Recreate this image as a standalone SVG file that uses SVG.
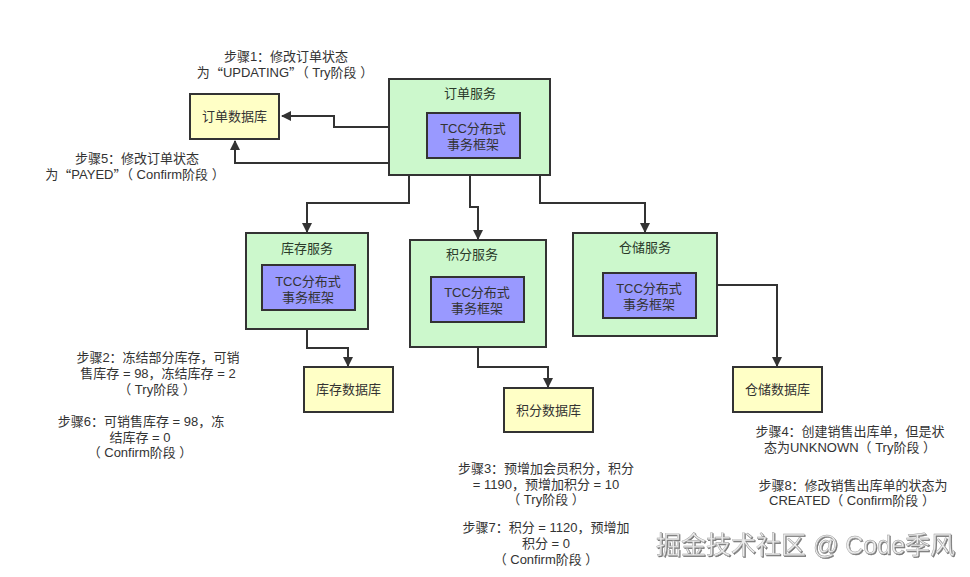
<svg xmlns="http://www.w3.org/2000/svg" width="970" height="577" viewBox="0 0 970 577">
<style>
text{font-family:"Liberation Sans","Noto Sans CJK SC",sans-serif;font-size:13px;fill:#333;text-anchor:middle;dominant-baseline:central}
.svc{fill:#ccf8cc;stroke:#333;stroke-width:2}
.tcc{fill:#9999ff;stroke:#333;stroke-width:2}
.db{fill:#ffffc6;stroke:#333;stroke-width:2}
.ttl{fill:#2a3a2a}
.ann{fill:#333}
.q{font-family:"Noto Sans CJK SC",sans-serif}
.conn{fill:none;stroke:#333;stroke-width:2}
.wm{font-size:25px;text-anchor:start;dominant-baseline:alphabetic;fill:#ececec;stroke:#999;stroke-width:0.4}
</style>
<defs>
<marker id="ah" markerWidth="10" markerHeight="10" refX="9" refY="5" orient="auto" markerUnits="userSpaceOnUse">
<path d="M0,0 L10,5 L0,10 Z" fill="#333"/>
</marker>
<filter id="sh" x="-5%" y="-20%" width="110%" height="150%">
<feDropShadow dx="1" dy="1" stdDeviation="0.6" flood-color="#666" flood-opacity="0.9"/>
</filter>
</defs>
<rect width="970" height="577" fill="#fff"/>

<g id="connectors">
<path class="conn" d="M389,127 H334 V116 H282" marker-end="url(#ah)"/>
<path class="conn" d="M389,163 H235 V141" marker-end="url(#ah)"/>
<path class="conn" d="M409,175 V203 H307 V232" marker-end="url(#ah)"/>
<path class="conn" d="M470,175 V207 H478 V239" marker-end="url(#ah)"/>
<path class="conn" d="M540,175 V203 H645 V232" marker-end="url(#ah)"/>
<path class="conn" d="M717,285 H777 V366" marker-end="url(#ah)"/>
<path class="conn" d="M307,329 V348 H348 V366" marker-end="url(#ah)"/>
<path class="conn" d="M478,347 V367 H548 V387" marker-end="url(#ah)"/>
</g>

<g id="order-db">
<rect class="db" x="190" y="94" width="89" height="45"/>
<text x="234.5" y="116.5">订单数据库</text>
</g>

<g id="order-service">
<rect class="svc" x="389" y="79" width="161" height="96"/>
<text class="ttl" x="470" y="93">订单服务</text>
<rect class="tcc" x="427" y="113" width="93" height="45"/>
<text x="473" y="128">TCC分布式</text>
<text x="473" y="144">事务框架</text>
</g>

<g id="stock-service">
<rect class="svc" x="246" y="233" width="122" height="96"/>
<text class="ttl" x="307" y="248">库存服务</text>
<rect class="tcc" x="262" y="265" width="93" height="45"/>
<text x="308" y="281">TCC分布式</text>
<text x="308" y="297">事务框架</text>
</g>

<g id="points-service">
<rect class="svc" x="410" y="240" width="136" height="107"/>
<text class="ttl" x="472" y="254">积分服务</text>
<rect class="tcc" x="431" y="277" width="93" height="45"/>
<text x="477" y="292">TCC分布式</text>
<text x="477" y="308">事务框架</text>
</g>

<g id="warehouse-service">
<rect class="svc" x="573" y="233" width="144" height="103"/>
<text class="ttl" x="645" y="247">仓储服务</text>
<rect class="tcc" x="603" y="273" width="93" height="45"/>
<text x="649" y="288">TCC分布式</text>
<text x="649" y="304">事务框架</text>
</g>

<g id="stock-db">
<rect class="db" x="304" y="367" width="89" height="45"/>
<text x="348.5" y="389.5">库存数据库</text>
</g>

<g id="points-db">
<rect class="db" x="504" y="388" width="89" height="44"/>
<text x="548.5" y="410">积分数据库</text>
</g>

<g id="warehouse-db">
<rect class="db" x="733" y="367" width="89" height="45"/>
<text x="777.5" y="389.5">仓储数据库</text>
</g>

<g id="annotations">
<text class="ann" x="286" y="56">步骤1：修改订单状态</text>
<text class="ann" x="285" y="72">为<tspan class="q">“</tspan>UPDATING<tspan class="q">”</tspan>（ Try阶段 ）</text>
<text class="ann" x="137" y="158">步骤5：修改订单状态</text>
<text class="ann" x="135" y="174">为<tspan class="q">“</tspan>PAYED<tspan class="q">”</tspan>（ Confirm阶段 ）</text>
<text class="ann" x="158" y="357">步骤2：冻结部分库存，可销</text>
<text class="ann" x="158" y="373">售库存 = 98，冻结库存 = 2</text>
<text class="ann" x="157" y="389">（ Try阶段 ）</text>
<text class="ann" x="141" y="421">步骤6：可销售库存 = 98，冻</text>
<text class="ann" x="140" y="437">结库存 = 0</text>
<text class="ann" x="140" y="452">（ Confirm阶段 ）</text>
<text class="ann" x="546" y="468">步骤3：预增加会员积分，积分</text>
<text class="ann" x="546" y="484">= 1190，预增加积分 = 10</text>
<text class="ann" x="546" y="499">（ Try阶段 ）</text>
<text class="ann" x="546" y="527">步骤7：积分 = 1120，预增加</text>
<text class="ann" x="546" y="543">积分 = 0</text>
<text class="ann" x="546" y="559">（ Confirm阶段 ）</text>
<text class="ann" x="850" y="431">步骤4：创建销售出库单，但是状</text>
<text class="ann" x="850" y="447">态为UNKNOWN（ Try阶段 ）</text>
<text class="ann" x="853" y="485">步骤8：修改销售出库单的状态为</text>
<text class="ann" x="852" y="500">CREATED（ Confirm阶段 ）</text>
</g>

<g id="watermark">
<text class="wm" x="656" y="554" filter="url(#sh)">掘金技术社区 @ Code季风</text>
</g>
</svg>
